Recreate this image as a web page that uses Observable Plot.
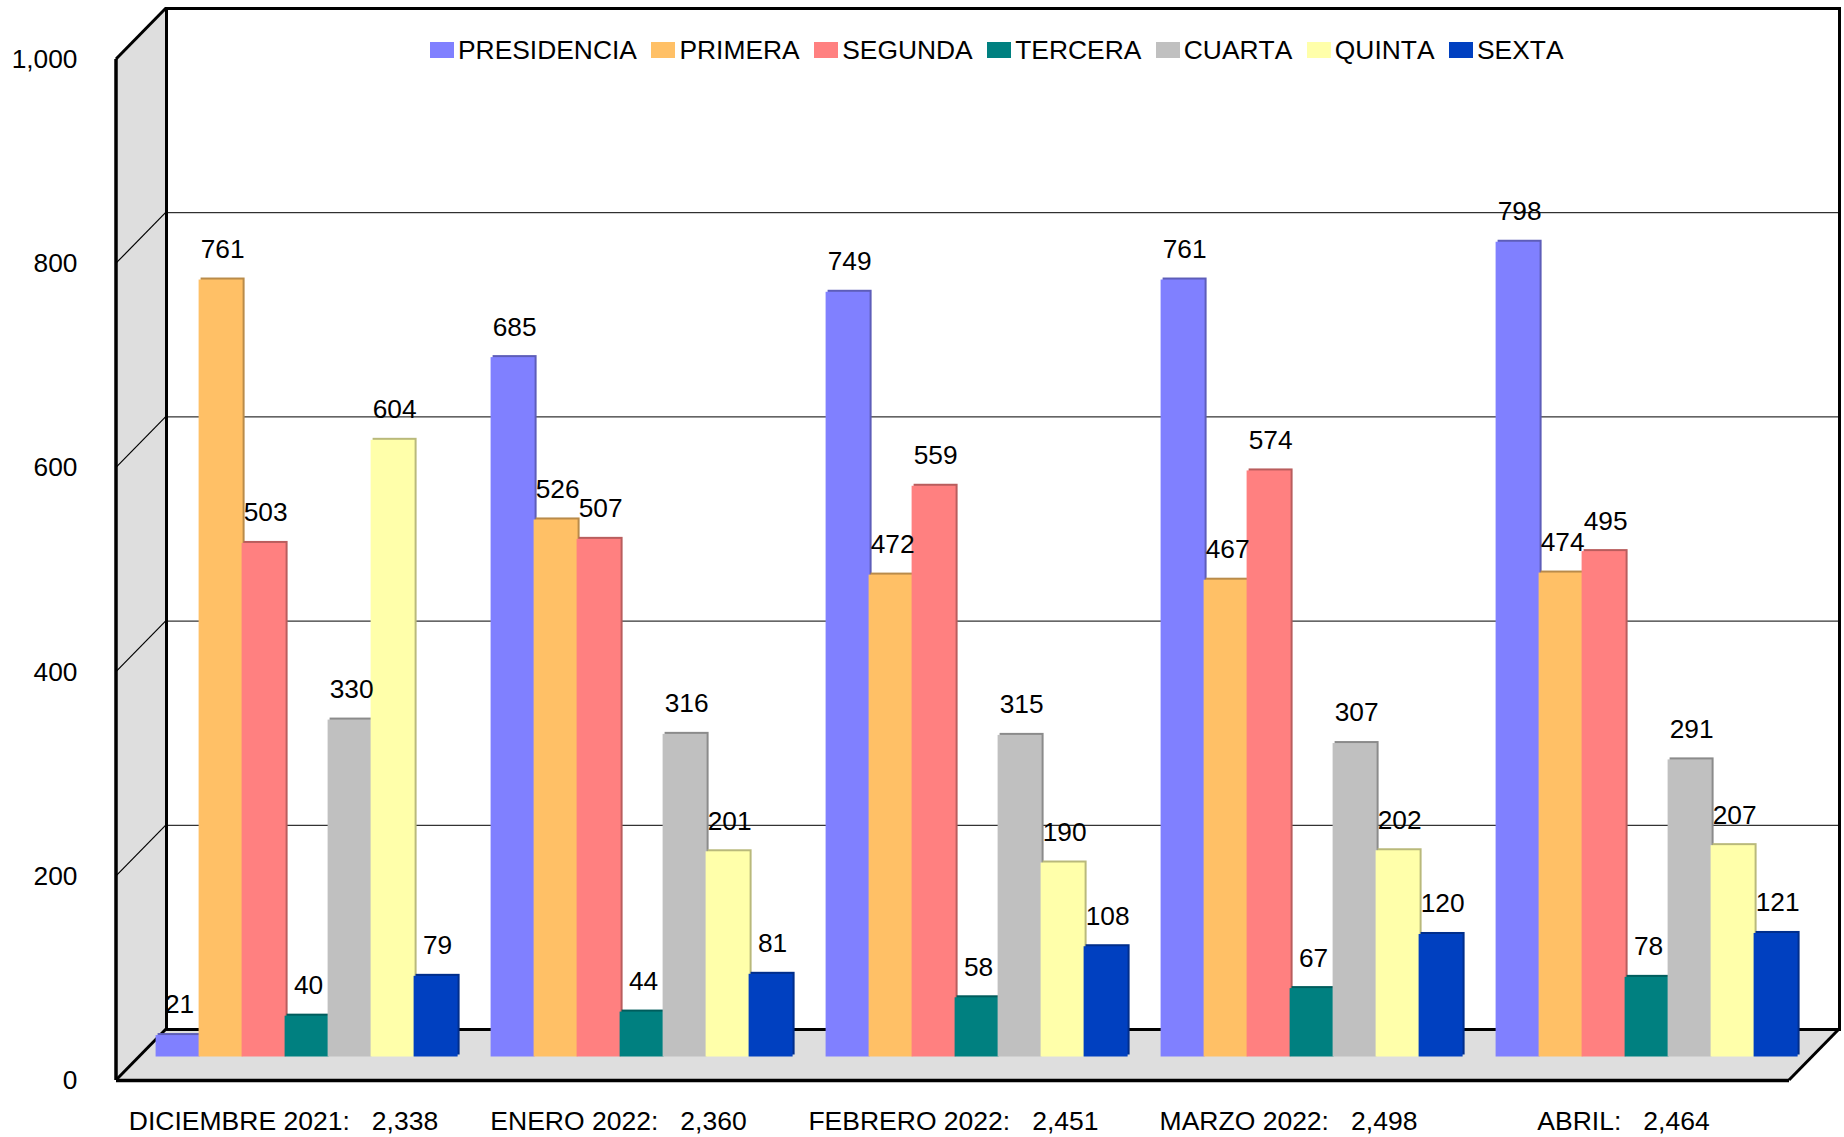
<!DOCTYPE html>
<html>
<head>
<meta charset="utf-8">
<script src="https://cdn.jsdelivr.net/npm/d3@7"></script>
<script src="https://cdn.jsdelivr.net/npm/@observablehq/plot@0.6"></script>
<style>
  html, body { margin: 0; padding: 0; background: #fff; }
  #chart { position: relative; width: 1844px; height: 1137px; font-family: "Liberation Sans", Arial, sans-serif; }
  #chart svg text { white-space: pre; }
  #legend { position: absolute; left: 430px; top: 36px; display: flex; align-items: center; font-size: 26.4px; font-kerning: none; color: #000; line-height: 28px; white-space: nowrap; }
  #legend .item { display: flex; align-items: center; margin-right: 14.5px; }
  #legend .sw { width: 24px; height: 16px; margin-right: 4px; }
</style>
</head>
<body>
<div id="chart"><div id="legend"></div></div>
<script>
const months = ["DICIEMBRE 2021", "ENERO 2022", "FEBRERO 2022", "MARZO 2022", "ABRIL"];
const totals = ["2,338", "2,360", "2,451", "2,498", "2,464"];
const seriesNames = ["PRESIDENCIA", "PRIMERA", "SEGUNDA", "TERCERA", "CUARTA", "QUINTA", "SEXTA"];
const seriesColors = ["#8080ff", "#ffc066", "#ff8080", "#008080", "#c0c0c0", "#ffffaa", "#0040c0"];
const presidencia = [21, 685, 749, 761, 798];
const primera = [761, 526, 472, 467, 474];
const segunda = [503, 507, 559, 574, 495];
const tercera = [40, 44, 58, 67, 78];
const cuarta = [330, 316, 315, 307, 291];
const quinta = [604, 201, 190, 202, 207];
const sexta = [79, 81, 108, 120, 121];
const seriesValues = [presidencia, primera, segunda, tercera, cuarta, quinta, sexta];
const yTicks = [0, 200, 400, 600, 800, 1000];

// 3D look: depth of the box, and where the bars stand inside it
const depthX = 50, depthY = -51;
const barDx = 23.6, barDy = -23.5;
const barW = 43, edge = 2;
const wallFill = "#dedede";
const textSize = 26.3;

const tickLabel = new Map(months.map((m, i) => [m, `${m}:   ${totals[i]}`]));

function box(index, scales, values, dim) {
  const {marginLeft: l, marginTop: t, width, height, marginRight, marginBottom} = dim;
  const r = width - marginRight, b = height - marginBottom;
  const g = d3.create("svg:g");
  const poly = pts => g.append("path").attr("d", "M" + pts.map(p => p.join(",")).join("L") + "Z").attr("fill", wallFill);
  poly([[l, t], [l + depthX, t + depthY], [l + depthX, b + depthY], [l, b]]);
  poly([[l, b], [l + depthX, b + depthY], [r + depthX, b + depthY], [r, b]]);
  return g.node();
}
function boxLines(index, scales, values, dim) {
  const {marginLeft: l, marginTop: t, width, height, marginRight, marginBottom} = dim;
  const r = width - marginRight, b = height - marginBottom;
  const g = d3.create("svg:g").attr("stroke", "#000").attr("fill", "none");
  const seg = (x1, y1, x2, y2, w) => g.append("line").attr("x1", x1).attr("y1", y1).attr("x2", x2).attr("y2", y2).attr("stroke-width", w);
  for (const v of yTicks.slice(1, -1)) seg(l, scales.y(v), l + depthX, scales.y(v) + depthY, 1.2);
  seg(l, t, l + depthX, t + depthY, 3);
  seg(l, b, l + depthX, b + depthY, 3);
  seg(r, b, r + depthX, b + depthY, 3);
  seg(l, t, l, b, 3.5);
  return g.node();
}

const marks = [
  box,
  Plot.frame({stroke: "#000", strokeWidth: 3, dx: depthX, dy: depthY}),
  Plot.ruleY(yTicks.slice(1, -1), {stroke: "#000", strokeWidth: 1, dx: depthX, dy: depthY}),
  boxLines,
  Plot.ruleY([0], {stroke: "#000", strokeWidth: 3.5}),
  Plot.axisY({ticks: yTicks, tickSize: 0, tickPadding: 39, tickFormat: d3.format(","), fontSize: textSize, fill: "#000"}),
  Plot.axisX({tickSize: 0, tickPadding: 31, tickFormat: d => tickLabel.get(d), fontSize: textSize + 0.2, fill: "#000"})
];

// bars: one dark copy for the top/side edge, then the front face
seriesNames.forEach((name, j) => {
  const rows = months.map((m, i) => ({month: m, value: seriesValues[j][i], series: name}));
  const insetLeft = j * barW, insetRight = (seriesNames.length - 1 - j) * barW;
  const dark = d3.color(seriesColors[j]).darker(0.9).formatHex();
  marks.push(Plot.barY(rows, {x: "month", y: "value", fill: dark, insetLeft, insetRight, dx: barDx + edge, dy: barDy - edge}));
  marks.push(Plot.barY(rows, {x: "month", y: "value", fill: "series", insetLeft, insetRight, dx: barDx, dy: barDy}));
});
seriesNames.forEach((name, j) => {
  const rows = months.map((m, i) => ({month: m, value: seriesValues[j][i]}));
  marks.push(Plot.text(rows, {
    x: "month", y: "value", text: d => String(d.value), fontSize: textSize, fill: "#000",
    dx: barDx + edge - 0.5 + (j + 0.5 - seriesNames.length / 2) * barW, dy: barDy - 30.5
  }));
});

const chart = Plot.plot({
  width: 1844, height: 1137,
  marginLeft: 116, marginRight: 55, marginTop: 59, marginBottom: 57,
  style: {fontFamily: '"Liberation Sans", Arial, sans-serif', background: "#fff", color: "#000"},
  x: {domain: months, paddingInner: 0.1, paddingOuter: 0.047, label: null, axis: null},
  y: {domain: [0, 1000], label: null, axis: null},
  color: {domain: seriesNames, range: seriesColors},
  marks
});
document.getElementById("chart").prepend(chart);

const legend = d3.select("#legend");
seriesNames.forEach((name, j) => {
  const item = legend.append("div").attr("class", "item");
  item.append("div").attr("class", "sw").style("background", seriesColors[j]);
  item.append("span").text(name);
});
</script>
</body>
</html>
